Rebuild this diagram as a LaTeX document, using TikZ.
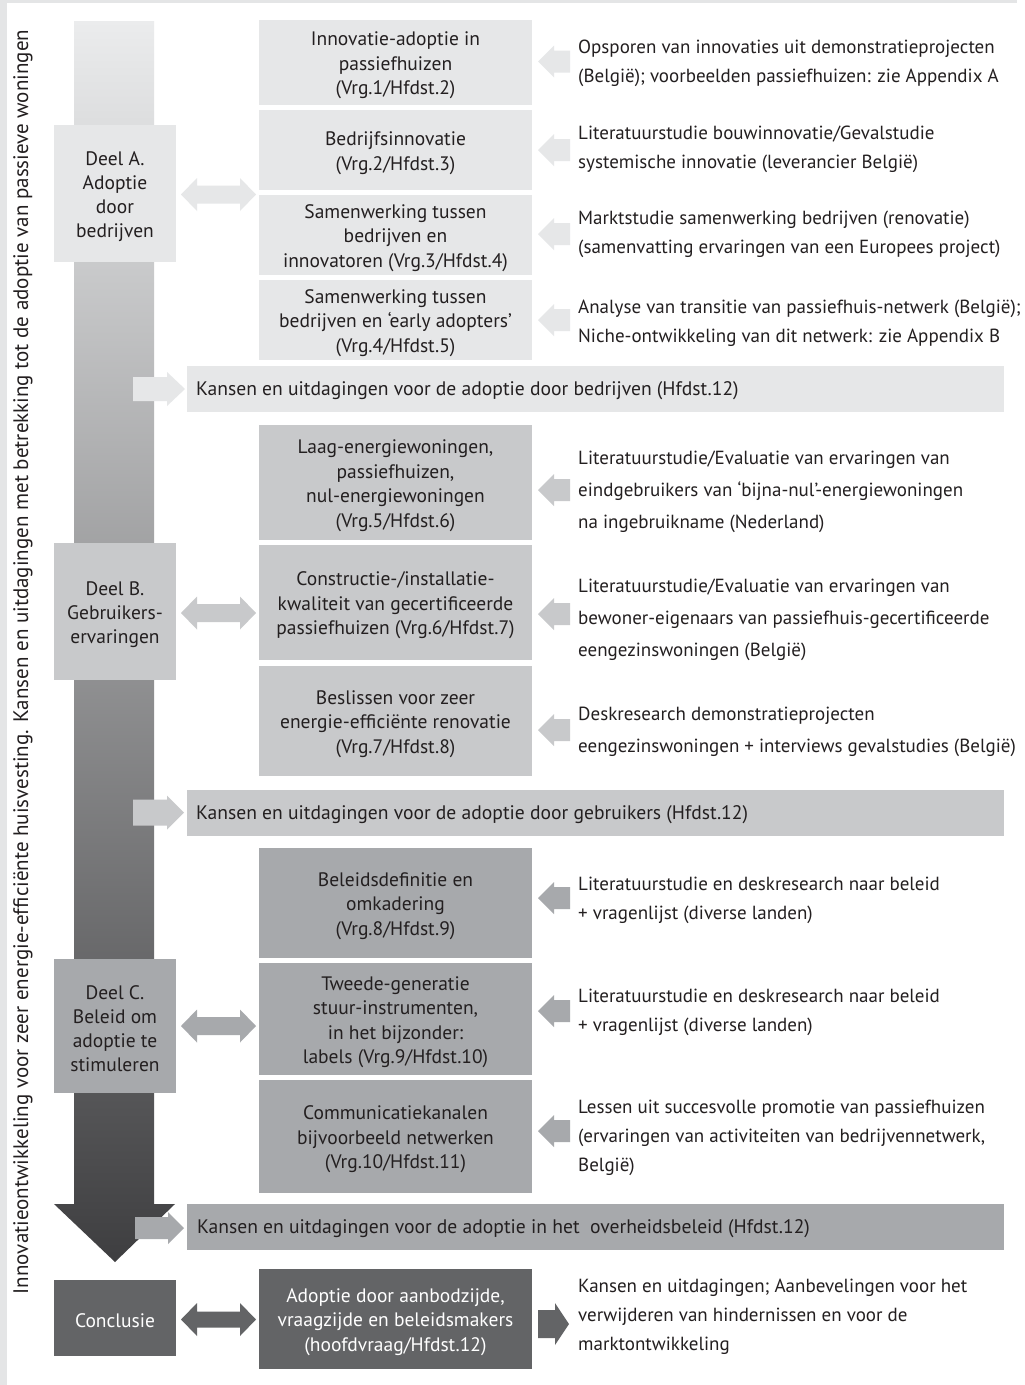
\documentclass[tikz,border=0pt]{standalone}
\usepackage{fontspec}
\setmainfont{PT Sans}
\usetikzlibrary{calc}
\definecolor{cA}{HTML}{E6E7E8}
\definecolor{cB}{HTML}{C8C9CB}
\definecolor{cC}{HTML}{A7A9AC}
\definecolor{cD}{HTML}{636466}
\definecolor{frm}{HTML}{E4E5E6}
\definecolor{txt}{HTML}{231F20}
\definecolor{gtop}{HTML}{EBECED}
\definecolor{gbot}{HTML}{3E3E40}
% right-pointing (or left-pointing with negative head length) block arrow
% #1 colour, #2 tail x, #3 tip x, #4 centre y, #5 head length, #6 half head, #7 half shaft
\newcommand\blkarrow[7]{\fill[#1] (#2,{#4-#7}) -- ({#3-(#5)},{#4-#7}) -- ({#3-(#5)},{#4-#6}) -- (#3,#4) -- ({#3-(#5)},{#4+#6}) -- ({#3-(#5)},{#4+#7}) -- (#2,{#4+#7}) -- cycle;}
% double block arrow: #1 colour, #2 left x, #3 right x, #4 y, #5 head length, #6 half head, #7 half shaft
\newcommand\dblarrow[7]{\fill[#1] (#2,#4) -- ({#2+#5},{#4-#6}) -- ({#2+#5},{#4-#7}) -- ({#3-#5},{#4-#7}) -- ({#3-#5},{#4-#6}) -- (#3,#4) -- ({#3-#5},{#4+#6}) -- ({#3-#5},{#4+#7}) -- ({#2+#5},{#4+#7}) -- ({#2+#5},{#4+#6}) -- cycle;}
\begin{document}
\begin{tikzpicture}[x=1pt,y=-1pt,
  mbox/.style={rectangle, inner sep=0pt, minimum width=273},
  mtext/.style={inner sep=0pt, align=center, text=txt, font=\fontsize{19.5}{24.5}\selectfont, yshift=-3pt},
  dbox/.style={rectangle, inner sep=0pt, minimum width=122},
  dtext/.style={inner sep=0pt, align=center, text=txt, font=\fontsize{19.5}{24}\selectfont, yshift=-3pt},
  rtext/.style={anchor=west, inner sep=0pt, align=left, text=txt,
    font=\fontsize{19}{29}\selectfont},
  rtextw/.style={rtext, font=\fontsize{19}{32}\selectfont},
  banner/.style={rectangle, inner sep=0pt, minimum width=817, minimum height=46},
  btext/.style={anchor=west, inner sep=0pt, text=txt, font=\fontsize{19.6}{24}\selectfont, yshift=-2pt},
  ]
\fill[white] (0,0) rectangle (1025,1385);
\useasboundingbox (0,0) rectangle (1025,1385);
\fill[frm] (0,0) rectangle (7,1385);
\fill[frm] (0,0) rectangle (1017,3);

% vertical title
\node[rotate=90, inner sep=0pt, text=txt, font=\fontsize{21}{24}\selectfont] (title) at (23,662)
 {Innovatieontwikkeling voor zeer energie-efficiënte huisvesting. Kansen en uitdagingen met betrekking tot de adoptie van passieve woningen};

% central big arrow
\shade[top color=gtop, bottom color=gbot] (74,21) -- (154,21) -- (154,1204) -- (175,1204) -- (115,1262) -- (54,1204) -- (74,1204) -- cycle;

% Deel boxes
\node[dbox, fill=cA, minimum height=137, label={[dtext]center:{Deel A.\\Adoptie\\door\\bedrijven}}] (dA) at (115,193.5) {};
\node[dbox, fill=cB, minimum height=137, label={[dtext]center:{Deel B.\\Gebruikers-\\ervaringen}}] (dB) at (115,611.5) {};
\node[dbox, fill=cC, minimum height=134, label={[dtext]center:{Deel C.\\Beleid om\\adoptie te\\stimuleren}}] (dC) at (115,1026) {};
\node[dbox, fill=cD, minimum height=76, label={[dtext, text=white]center:{Conclusie}}] (dD) at (115,1318) {};

% double arrows
\dblarrow{cA}{181}{256}{194.5}{16}{16.5}{9}
\dblarrow{cB}{181}{256}{613}{16}{16.5}{9}
\dblarrow{cC}{181}{256}{1026}{16}{16.5}{9}
\dblarrow{cD}{181}{256}{1319.5}{16}{16.5}{8}

% middle boxes
\node[mbox, fill=cA, minimum height=85, label={[mtext]center:{Innovatie-adoptie in\\passiefhuizen\\(Vrg.1/Hfdst.2)}}] (m1) at (395.5,62.5) {};
\node[mbox, fill=cA, minimum height=80, label={[mtext]center:{Bedrijfsinnovatie\\(Vrg.2/Hfdst.3)}}] (m2) at (395.5,150) {};
\node[mbox, fill=cA, minimum height=80, label={[mtext]center:{Samenwerking tussen\\bedrijven en\\innovatoren (Vrg.3/Hfdst.4)}}] (m3) at (395.5,235) {};
\node[mbox, fill=cA, minimum height=80, label={[mtext]center:{Samenwerking tussen\\bedrijven en ‘early adopters’\\(Vrg.4/Hfdst.5)}}] (m4) at (395.5,320) {};
\node[mbox, fill=cB, minimum height=115, label={[mtext]center:{Laag-energiewoningen,\\passiefhuizen,\\nul-energiewoningen\\(Vrg.5/Hfdst.6)}}] (m5) at (395.5,482.5) {};
\node[mbox, fill=cB, minimum height=115, label={[mtext]center:{Constructie-/installatie-\\kwaliteit van gecertificeerde\\passiefhuizen (Vrg.6/Hfdst.7)}}] (m6) at (395.5,602.5) {};
\node[mbox, fill=cB, minimum height=110, label={[mtext]center:{Beslissen voor zeer\\energie-efficiënte renovatie\\(Vrg.7/Hfdst.8)}}] (m7) at (395.5,721) {};
\node[mbox, fill=cC, minimum height=110, label={[mtext]center:{Beleidsdefinitie en\\omkadering\\(Vrg.8/Hfdst.9)}}] (m8) at (395.5,903) {};
\node[mbox, fill=cC, minimum height=112, label={[mtext]center:{Tweede-generatie\\stuur-instrumenten,\\in het bijzonder:\\labels (Vrg.9/Hfdst.10)}}] (m9) at (395.5,1019) {};
\node[mbox, fill=cC, minimum height=113, label={[mtext]center:{Communicatiekanalen\\bijvoorbeeld netwerken\\(Vrg.10/Hfdst.11)}}] (m10) at (395.5,1136.5) {};
\node[mbox, fill=cD, minimum height=100, label={[mtext, text=white]center:{Adoptie door aanbodzijde,\\vraagzijde en beleidsmakers\\(hoofdvraag/Hfdst.12)}}] (m11) at (395.5,1319) {};

% banners
\node[banner, fill=cA] (bA) at (595.5,389) {};
\node[btext] (tA) at (196,389) {Kansen en uitdagingen voor de adoptie door bedrijven (Hfdst.12)};
\node[banner, fill=cB] (bB) at (595.5,812.5) {};
\node[btext] (tB) at (196,812.5) {Kansen en uitdagingen voor de adoptie door gebruikers (Hfdst.12)};
\node[banner, fill=cC] (bC) at (595.5,1227) {};
\node[btext] (tC) at (197,1227) {Kansen en uitdagingen voor de adoptie in het\ \ overheidsbeleid (Hfdst.12)};
\blkarrow{cA}{133}{185}{389}{18}{17}{12}
\blkarrow{cB}{133}{184}{812.5}{17}{17}{13}
\blkarrow{cC}{135}{184}{1228}{16}{16}{11}

% right texts
\node[rtext] (r1) at (578,63.5) {Opsporen van innovaties uit demonstratieprojecten\\(België); voorbeelden passiefhuizen: zie Appendix A};
\node[rtext] (r2) at (578,149.5) {Literatuurstudie bouwinnovatie/Gevalstudie\\systemische innovatie (leverancier België)};
\node[rtext] (r3) at (578,234.5) {Marktstudie samenwerking bedrijven (renovatie)\\(samenvatting ervaringen van een Europees project)};
\node[rtext] (r4) at (578,323.5) {Analyse van transitie van passiefhuis-netwerk (België);\\Niche-ontwikkeling van dit netwerk: zie Appendix B};
\node[rtextw] (r5) at (578,492) {Literatuurstudie/Evaluatie van ervaringen van\\eindgebruikers van ‘bijna-nul’-energiewoningen\\na ingebruikname (Nederland)};
\node[rtextw] (r6) at (578,619.5) {Literatuurstudie/Evaluatie van ervaringen van\\bewoner-eigenaars van passiefhuis-gecertificeerde\\eengezinswoningen (België)};
\node[rtextw] (r7) at (578,732) {Deskresearch demonstratieprojecten\\eengezinswoningen + interviews gevalstudies (België)};
\node[rtext] (r8) at (578,900.5) {Literatuurstudie en deskresearch naar beleid\\+ vragenlijst (diverse landen)};
\node[rtext] (r9) at (578,1012.5) {Literatuurstudie en deskresearch naar beleid\\+ vragenlijst (diverse landen)};
\node[rtext] (r10) at (578,1138) {Lessen uit succesvolle promotie van passiefhuizen\\(ervaringen van activiteiten van bedrijvennetwerk,\\België)};
\node[rtext] (r11) at (578,1317) {Kansen en uitdagingen; Aanbevelingen voor het\\verwijderen van hindernissen en voor de\\marktontwikkeling};

% left-pointing arrows from sources to questions
\blkarrow{cA}{570}{538}{61.5}{-16}{16}{11}
\blkarrow{cA}{570}{538}{150}{-16}{16}{11}
\blkarrow{cA}{570}{538}{234}{-16}{16}{11}
\blkarrow{cA}{570}{538}{320}{-16}{16}{11}
\blkarrow{cB}{570}{538}{490}{-16}{16}{11}
\blkarrow{cB}{570}{538}{614}{-16}{16}{11}
\blkarrow{cB}{570}{538}{730}{-16}{16}{11}
\blkarrow{cC}{570}{538}{898}{-16}{16}{11}
\blkarrow{cC}{570}{538}{1011}{-16}{16}{11}
\blkarrow{cC}{570}{538}{1131}{-16}{16}{11}
% conclusion arrow
\blkarrow{cD}{538}{569}{1324}{14}{21}{14}
\end{tikzpicture}
\end{document}
